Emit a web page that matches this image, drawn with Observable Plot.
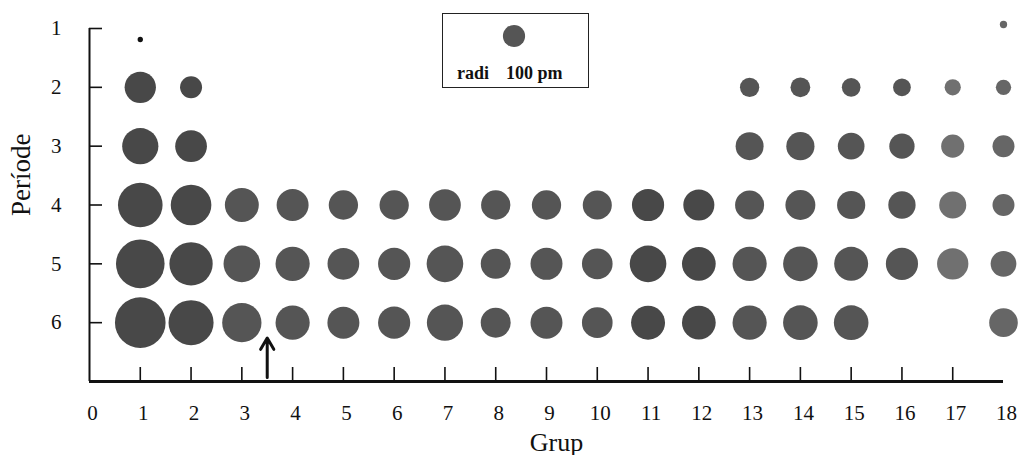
<!DOCTYPE html>
<html><head><meta charset="utf-8">
<script src="https://cdn.jsdelivr.net/npm/d3@7"></script>
<script src="https://cdn.jsdelivr.net/npm/@observablehq/plot@0.6"></script>
<style>
html,body{margin:0;padding:0;background:#fff;}
#wrap{position:relative;width:1025px;height:455px;}
#legend{position:absolute;left:442px;top:13px;width:145px;height:73px;border:1.5px solid #222;font-family:"Liberation Serif",serif;font-weight:bold;font-size:18px;color:#111;background:#fff;}
#legend svg{position:absolute;left:0;top:0;}
#legend .t1{position:absolute;left:14px;top:49px;}
#legend .t2{position:absolute;left:63px;top:49px;}
</style></head><body><div id="wrap"></div>
<script>
// ---- data (atomic radii in pm) ----
const groupLabels = [0,1,2,3,4,5,6,7,8,9,10,11,12,13,14,15,16,17,18];
const groupTicks = [1,2,3,4,5,6,7,8,9,10,11,12,13,14,15,16,17];
const periodTicks = [1,2,3,4,5,6];

const p1Groups = [1,18];
const p1Radii  = [24,33];
const p2Groups = [1,2,13,14,15,16,17,18];
const p2Radii  = [141,99,87,89,84,80,73,69];
const p3Groups = [1,2,13,14,15,16,17,18];
const p3Radii  = [163,143,126,127,120,114,104,99];
const p4Groups = [1,2,3,4,5,6,7,8,9,10,11,12,13,14,15,16,17,18];
const p4Radii  = [201,183,153,144,132,132,143,132,132,131,145,140,131,135,127,123,122,99];
const p5Groups = [1,2,3,4,5,6,7,8,9,10,11,12,13,14,15,16,17,18];
const p5Radii  = [219,195,165,154,143,145,165,135,144,138,165,152,154,156,153,145,141,116];
const p6Groups = [1,2,3,4,5,6,7,8,9,10,11,12,13,14,15,18];
const p6Radii  = [228,203,177,154,144,145,163,135,144,138,153,152,154,156,156,129];

const legendRadius = 100;
const legendLabel = "radi";
const legendUnit = "100 pm";

const arrowGroup = 3.5;
const arrowFrom = 6.93;
const arrowTo = 6.26;

// ---- build table ----
const rows = [
  [1, p1Groups, p1Radii],[2, p2Groups, p2Radii],[3, p3Groups, p3Radii],
  [4, p4Groups, p4Radii],[5, p5Groups, p5Radii],[6, p6Groups, p6Radii]
];
const atoms = rows.flatMap(([period, gs, rs]) => gs.map((g, i) => ({period, group: g, radius: rs[i]})));

function shade(d){
  if (d.period === 1 && d.group === 1) return "#111";
  if (d.group === 17) return "#707070";
  if (d.group === 18) return "#666";
  if (d.group <= 2 || d.group === 11 || d.group === 12) return "#484848";
  return "#555";
}

const W = 1025, H = 455, ML = 89, MR = 22, MT = 28, MB = 74;
const xDomain = [0, 18], yDomain = [1, 7];
const frameW = W - ML - MR, frameH = H - MT - MB;
// tick lengths (px) expressed in scale units
const tickLenX = 13 * (xDomain[1] - xDomain[0]) / frameW;
const tickLenY = 14 * (yDomain[1] - yDomain[0]) / frameH;
const font = '"Liberation Serif", "Times New Roman", serif';
const chart = Plot.plot({
  width: W, height: H,
  marginLeft: ML, marginRight: MR, marginTop: MT, marginBottom: MB,
  x: {domain: xDomain, label: null, axis: null},
  y: {domain: yDomain, reverse: true, label: null, axis: null},
  r: {type: "linear", domain: [0, 100], range: [0, 11.1]},
  style: {fontFamily: font, fontSize: "21px", color: "#111", background: "white"},
  marks: [
    Plot.ruleX([xDomain[0]], {strokeWidth: 2, stroke: "#111"}),
    Plot.ruleY([yDomain[1]], {strokeWidth: 3, stroke: "#111"}),
    Plot.ruleY(periodTicks, {y: d => d, x1: xDomain[0], x2: xDomain[0] + tickLenX, strokeWidth: 1.6, stroke: "#111"}),
    Plot.ruleX(groupTicks, {x: d => d, y1: yDomain[1], y2: yDomain[1] - tickLenY, strokeWidth: 1.6, stroke: "#111"}),
    Plot.axisY(periodTicks, {tickSize: 0, tickPadding: 28, fontSize: 21, tickFormat: d => String(d), label: null}),
    Plot.axisX(groupLabels, {tickSize: 0, tickPadding: 24, dx: 3, fontSize: 21, tickFormat: d => String(d), label: null}),
    Plot.dot(atoms.filter(d => d.period > 1), {x: "group", y: "period", r: "radius", fill: shade}),
    Plot.dot(atoms.filter(d => d.period === 1 && d.group === 1), {x: "group", y: "period", r: "radius", fill: shade, dy: 11}),
    Plot.dot(atoms.filter(d => d.period === 1 && d.group === 18), {x: "group", y: "period", r: "radius", fill: shade, dy: -4}),
    Plot.arrow([arrowGroup], {x1: d => d, x2: d => d, y1: arrowFrom, y2: arrowTo, strokeWidth: 3, headLength: 15, headAngle: 60, stroke: "#111"}),
    Plot.text(["Grup"], {text: d => d, frameAnchor: "bottom", dx: 10, dy: 69, fontSize: 26}),
    Plot.text(["Període"], {text: d => d, frameAnchor: "left", dx: -68, dy: 11, rotate: -90, fontSize: 27})
  ]
});
const wrap = document.getElementById("wrap");
wrap.appendChild(chart);

// legend
const rpx = chart.scale("r").apply(legendRadius);
const lg = document.createElement("div");
lg.id = "legend";
lg.innerHTML = `<svg width="145" height="73"><circle cx="71" cy="22" r="${rpx}" fill="#555"></circle></svg>
<span class="t1">${legendLabel}</span><span class="t2">${legendUnit}</span>`;
wrap.appendChild(lg);
</script></body></html>
